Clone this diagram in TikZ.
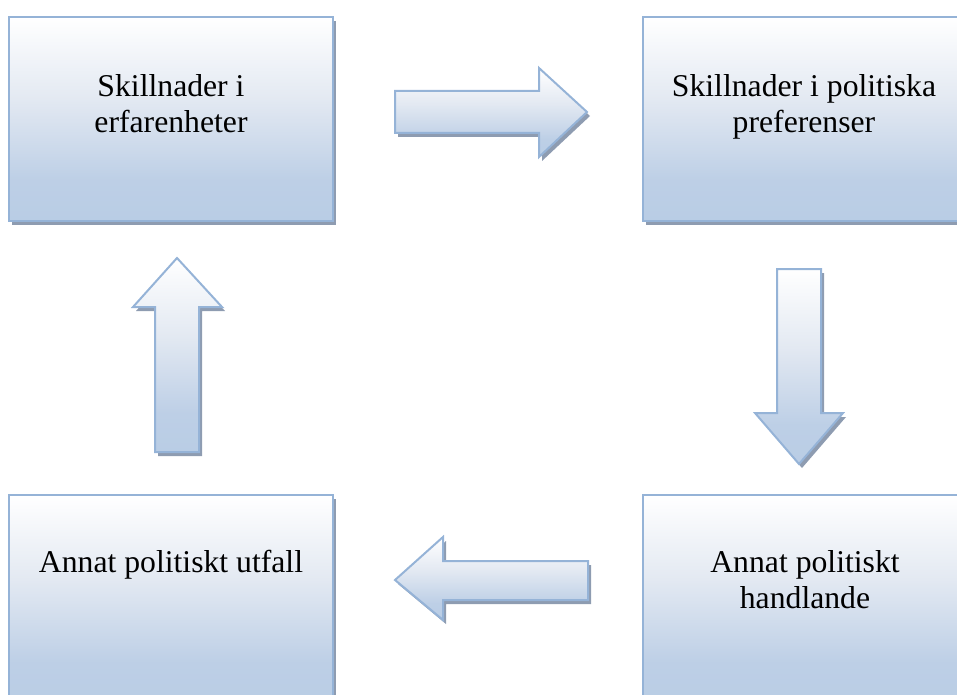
\documentclass[tikz,border=0pt]{standalone}
\usepackage{fontspec}
\setmainfont{Liberation Serif}
\usetikzlibrary{shadows}
\definecolor{bordblue}{HTML}{95B3D7}
\definecolor{fillblue}{HTML}{B9CDE5}
\definecolor{fillmid}{HTML}{E3E9F2}
\definecolor{fillbot}{HTML}{BDCFE6}
\definecolor{shadowgray}{HTML}{8E9CB1}
\pgfdeclareverticalshading{wordgrad}{100bp}{color(0bp)=(fillblue); color(25bp)=(fillblue); color(35bp)=(fillbot); color(55bp)=(fillmid); color(75bp)=(white); color(100bp)=(white)}
\tikzset{
  shadedshape/.style={draw=bordblue, line width=2pt, shading=wordgrad,
    drop shadow={shadow xshift=3pt, shadow yshift=-4pt, fill=shadowgray, opacity=1}},
  boxtext/.style={anchor=base, align=center, inner sep=0pt,
    font=\fontsize{31.7}{36}\selectfont}
}
\begin{document}
\begin{tikzpicture}[x=1pt,y=-1pt]
\useasboundingbox (0,0) rectangle (957,695);
\clip (0,0) rectangle (957,695);
% boxes
\path[shadedshape] (9,17) rectangle (333,221);
\path[shadedshape] (643,17) rectangle (967,221);
\path[shadedshape] (9,495) rectangle (333,705);
\path[shadedshape] (643,495) rectangle (967,705);
% texts (base anchor = last line baseline)
\node[boxtext] (t1) at (171,133) {Skillnader i\\erfarenheter};
\node[boxtext] (t2) at (804,133) {Skillnader i politiska\\preferenser};
\node[boxtext] (t3) at (171,572) {Annat politiskt utfall};
\node[boxtext] (t4) at (805,608) {Annat politiskt\\handlande};
% block arrows
\path[shadedshape, line join=miter] (395,91) -- (539,91) -- (539,68) -- (587,112) -- (539,157) -- (539,133) -- (395,133) -- cycle;
\path[shadedshape, line join=miter] (777,269) -- (821,269) -- (821,413) -- (843,413) -- (799,464) -- (755,413) -- (777,413) -- cycle;
\path[shadedshape, line join=miter] (395,580) -- (443,537) -- (443,561) -- (588,561) -- (588,600) -- (443,600) -- (443,620) -- cycle;
\path[shadedshape, line join=miter] (177,258) -- (222,307) -- (199,307) -- (199,452) -- (155,452) -- (155,307) -- (133,307) -- cycle;
\end{tikzpicture}
\end{document}
